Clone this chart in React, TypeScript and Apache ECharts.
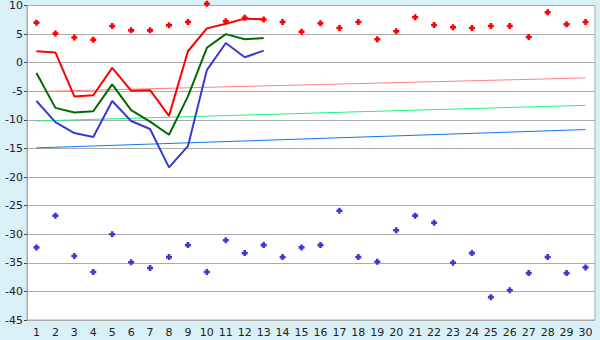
import React, { useEffect, useRef } from "react";
import * as echarts from "echarts";

const categories = Array.from({ length: 30 }, (_, i) => String(i + 1));

const redLine = [2.0, 1.8, -5.9, -5.7, -0.9, -4.9, -4.8, -9.3, 2.0, 6.0, 6.8, 7.7, 7.6];
const greenLine = [-1.8, -7.9, -8.7, -8.5, -3.8, -8.3, -10.3, -12.6, -5.9, 2.6, 5.0, 4.1, 4.3];
const blueLine = [-6.7, -10.4, -12.3, -13.0, -6.7, -10.2, -11.6, -18.3, -14.6, -1.3, 3.45, 0.95, 2.1];

const redScatter = [7.0, 5.1, 4.4, 4.0, 6.4, 5.65, 5.65, 6.55, 7.1, 10.3, 7.25, 7.85, 7.55, 7.1, 5.4,
  6.9, 6.05, 7.1, 4.1, 5.5, 7.95, 6.6, 6.2, 6.05, 6.4, 6.4, 4.5, 8.8, 6.7, 7.1];
const blueScatter = [-32.3, -26.75, -33.8, -36.6, -30.0, -34.9, -35.9, -34.0, -31.9, -36.6, -31.05, -33.3, -31.9, -34.0, -32.3,
  -31.9, -25.9, -34.0, -34.8, -29.3, -26.75, -28.0, -35.0, -33.3, -41.0, -39.8, -36.8, -34.0, -36.8, -35.8];

const pinkTrend = [-5.05, -2.67];
const greenTrend = [-10.2, -7.45];
const blueTrend = [-14.9, -11.7];

const yTicks = { min: -45, max: 10, interval: 5 };

const plus = "path://M2,0H5V2H7V5H5V7H2V5H0V2H2Z";

function trend(ends: number[]) {
  const d: (number | null)[] = categories.map(() => null);
  d[0] = ends[0];
  d[d.length - 1] = ends[1];
  return d;
}

export default function App() {
  const ref = useRef<HTMLDivElement>(null);
  useEffect(() => {
    document.body.style.margin = "0";
    const chart = echarts.init(ref.current!, undefined, { renderer: "svg" });
    const font = "DejaVu Sans";
    chart.setOption({
      animation: false,
      backgroundColor: "#daf0f7",
      grid: {
        left: 27, right: 5, top: 5, bottom: 20, show: true,
        backgroundColor: "#ffffff", borderColor: "#aaaaaa", borderWidth: 1,
      },
      xAxis: {
        type: "category",
        data: categories,
        boundaryGap: true,
        axisLine: { lineStyle: { color: "#aaaaaa" } },
        axisTick: { alignWithLabel: true, length: 5, lineStyle: { color: "#444" } },
        axisLabel: { color: "#222", fontFamily: font, fontSize: 11, margin: 7, interval: 0 },
        splitLine: { show: false },
      },
      yAxis: {
        type: "value",
        min: yTicks.min, max: yTicks.max, interval: yTicks.interval,
        axisLine: { show: true, lineStyle: { color: "#aaaaaa" } },
        axisTick: { show: true, length: 3, lineStyle: { color: "#444" } },
        axisLabel: { color: "#222", fontFamily: font, fontSize: 11, margin: 4 },
        splitLine: { lineStyle: { color: "#aaaaaa", width: 1 } },
      },
      series: [
        { type: "line", data: trend(pinkTrend), connectNulls: true, symbol: "none", lineStyle: { color: "#ff8080", width: 1 }, z: 1 },
        { type: "line", data: trend(greenTrend), connectNulls: true, symbol: "none", lineStyle: { color: "#22f080", width: 1 }, z: 1 },
        { type: "line", data: trend(blueTrend), connectNulls: true, symbol: "none", lineStyle: { color: "#1177ee", width: 1 }, z: 1 },
        { type: "line", data: blueLine, symbol: "none", lineStyle: { color: "#3a3acc", width: 2 }, z: 2 },
        { type: "line", data: greenLine, symbol: "none", lineStyle: { color: "#006a00", width: 2 }, z: 2 },
        { type: "line", data: redLine, symbol: "none", lineStyle: { color: "#ff0000", width: 2 }, z: 2 },
        { type: "scatter", data: redScatter, symbol: plus, symbolSize: 6, itemStyle: { color: "#ff0000", opacity: 1 }, clip: false, z: 3 },
        { type: "scatter", data: blueScatter, symbol: plus, symbolSize: 6, itemStyle: { color: "#3a3acc", opacity: 1 }, clip: false, z: 3 },
      ],
    });
    return () => chart.dispose();
  }, []);
  return <div ref={ref} style={{ width: 600, height: 340 }} />;
}
